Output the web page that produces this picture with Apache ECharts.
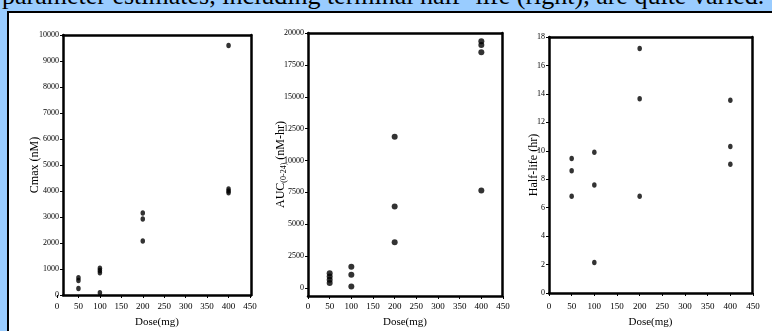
<!DOCTYPE html>
<html>
<head>
<meta charset="utf-8">
<script src="https://cdn.jsdelivr.net/npm/echarts@6/dist/echarts.min.js"></script>
<style>
  html, body { margin: 0; padding: 0; background: #99ccff; overflow: hidden; }
  #caption {
    position: absolute; left: 2px; top: -17px;
    font: 26px/26px 'Liberation Serif', serif; color: #000; white-space: nowrap;
  }
  #panel {
    position: absolute; left: 7px; top: 11px; width: 800px; height: 400px;
    border: 2px solid #000; background: #fff;
  }
  #chart { position: absolute; left: 0; top: 0; width: 772px; height: 331px; }
</style>
</head>
<body>
<div id="caption">parameter estimates, including terminal half -life (right), are quite varied.</div>
<div id="panel"></div>
<div id="chart"></div>
<script>
const cmaxDose  = [50, 50, 50, 100, 100, 100, 100, 200, 200, 200, 400, 400, 400, 400];
const cmaxValue = [660, 560, 250, 1030, 940, 860, 90, 3150, 2920, 2080, 9600, 4080, 4000, 3930];

const aucDose  = [50, 50, 50, 50, 100, 100, 100, 200, 200, 200, 400, 400, 400, 400];
const aucValue = [1150, 900, 650, 400, 1670, 1040, 120, 11870, 6400, 3580, 19350, 19050, 18500, 7650];

const halfDose  = [50, 50, 50, 100, 100, 100, 200, 200, 200, 400, 400, 400];
const halfValue = [9.45, 8.6, 6.8, 9.9, 7.6, 2.15, 17.2, 13.65, 6.8, 13.55, 10.3, 9.05];

const doseRange = [0, 450, 50];
const cmaxRange = [0, 10000, 1000];
const aucRange  = [0, 20000, 2500];
const halfRange = [0, 18, 2];

const font = "'Liberation Serif', serif";

// frame = the drawn box, data = where the value scales sit (they are offset in the original)
const panels = [
  {
    frame: { left: 63, top: 35, width: 188, height: 260 },
    data:  { left: 57, top: 35, width: 193, height: 260 },
    yRange: cmaxRange, yName: 'Cmax (nM)', yGap: 22, xGap: 22, xLabelMargin: 7,
    dose: cmaxDose, value: cmaxValue, size: [4.5, 5.5]
  },
  {
    frame: { left: 308, top: 33, width: 194, height: 263 },
    data:  { left: 308, top: 33, width: 195, height: 255 },
    yRange: aucRange, yName: '{a|AUC}{b|(0-24)}{a| (nM-hr)}', yGap: 20, xGap: 21, xLabelMargin: 6.5,
    dose: aucDose, value: aucValue, size: [6, 6]
  },
  {
    frame: { left: 549, top: 37, width: 203, height: 256 },
    data:  { left: 549, top: 37, width: 204, height: 256 },
    yRange: halfRange, yName: 'Half-life (hr)', yGap: 9, xGap: 24, xLabelMargin: 9.5,
    dose: halfDose, value: halfValue, size: [4.5, 5.5]
  }
];

const lineOnly = {
  min: 0, max: 1,
  axisLine: { show: true, onZero: false, lineStyle: { color: '#000', width: 2.5 } },
  axisTick: { show: false },
  axisLabel: { show: false },
  splitLine: { show: false }
};

const nameStyle = {
  fontFamily: font, fontSize: 12, color: '#000',
  rich: {
    a: { fontFamily: font, fontSize: 12, color: '#000' },
    b: { fontFamily: font, fontSize: 8, color: '#000', padding: [6, 0, 0, 0] }
  }
};

const plain = v => String(v);

const grid = [], xAxis = [], yAxis = [], series = [];

panels.forEach((p, i) => {
  const fi = grid.length;
  grid.push(Object.assign({ containLabel: false, outerBoundsMode: 'none' }, p.frame));
  const di = grid.length;
  grid.push(Object.assign({ containLabel: false, outerBoundsMode: 'none' }, p.data));

  xAxis.push(Object.assign({}, lineOnly, {
    gridIndex: fi, position: 'bottom',
    name: 'Dose(mg)', nameLocation: 'middle', nameGap: p.xGap,
    nameTextStyle: { fontFamily: font, fontSize: 11, color: '#000' }
  }));
  xAxis.push(Object.assign({}, lineOnly, { gridIndex: fi, position: 'top' }));
  xAxis.push({
    gridIndex: di, type: 'value', position: 'bottom',
    min: doseRange[0], max: doseRange[1], interval: doseRange[2],
    offset: (p.frame.top + p.frame.height) - (p.data.top + p.data.height),
    axisLine: { show: false, onZero: false },
    axisTick: { show: true, length: 3, lineStyle: { color: '#000', width: 1 } },
    axisLabel: { fontFamily: font, fontSize: 9, color: '#000', margin: p.xLabelMargin, formatter: plain },
    splitLine: { show: false }
  });

  yAxis.push(Object.assign({}, lineOnly, {
    gridIndex: fi, position: 'left',
    name: p.yName, nameLocation: 'middle', nameGap: p.yGap,
    nameTextStyle: nameStyle
  }));
  yAxis.push(Object.assign({}, lineOnly, { gridIndex: fi, position: 'right' }));
  yAxis.push({
    gridIndex: di, type: 'value', position: 'left',
    min: p.yRange[0], max: p.yRange[1], interval: p.yRange[2],
    offset: p.data.left - p.frame.left,
    axisLine: { show: false, onZero: false },
    axisTick: { show: true, length: 3, lineStyle: { color: '#000', width: 1 } },
    axisLabel: { fontFamily: font, fontSize: 8, color: '#000', margin: 4, formatter: plain },
    splitLine: { show: false }
  });

  series.push({
    type: 'scatter',
    xAxisIndex: i * 3 + 2,
    yAxisIndex: i * 3 + 2,
    symbol: 'circle',
    symbolSize: p.size,
    itemStyle: { color: '#000' },
    data: p.dose.map((d, k) => [d, p.value[k]])
  });
});

const chart = echarts.init(document.getElementById('chart'));
chart.setOption({
  backgroundColor: 'transparent',
  animation: false,
  grid, xAxis, yAxis, series
});
</script>
</body>
</html>
